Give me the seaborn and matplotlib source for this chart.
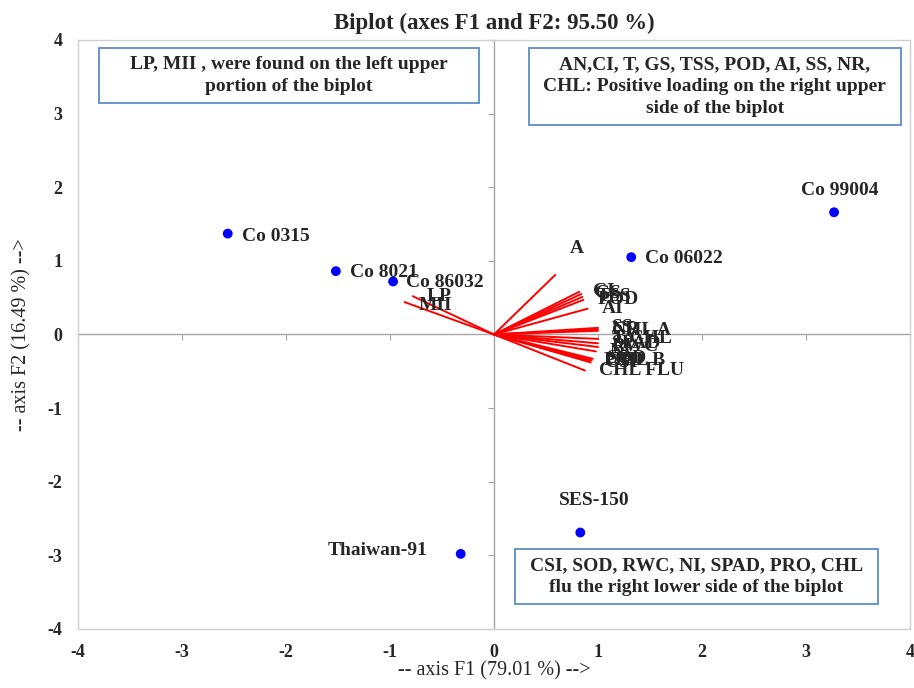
import numpy as np
import matplotlib.pyplot as plt
import seaborn as sns
import pandas as pd
from matplotlib.patches import Rectangle

# observations (factor scores on F1 / F2)
varieties = ["Co 0315", "Co 8021", "Co 86032", "Co 06022", "Co 99004", "SES-150", "Thaiwan-91"]
f1_scores = [-2.56, -1.52, -0.97, 1.32, 3.27, 0.83, -0.32]
f2_scores = [1.37, 0.86, 0.72, 1.05, 1.66, -2.69, -2.98]

# variables (loadings on F1 / F2)
variables = ["LP", "MII", "A", "CI", "GS", "TSS", "POD", "AI", "SS", "NR", "CHL A",
             "T CHL", "SPAD", "RWC", "NI", "SOD", "CSI", "PRO", "CHL B", "CHL FLU"]
f1_load = [-0.78, -0.86, 0.59, 0.82, 0.84, 0.85, 0.86, 0.90, 1.00, 1.00, 1.00,
           1.00, 1.00, 1.00, 0.98, 0.95, 0.93, 0.92, 0.94, 0.875]
f2_load = [0.52, 0.44, 0.81, 0.58, 0.55, 0.51, 0.47, 0.35, 0.09, 0.07, 0.05,
           -0.06, -0.12, -0.17, -0.23, -0.33, -0.38, -0.36, -0.35, -0.49]

box_texts = ["LP, MII , were found on the left upper\nportion of the biplot",
             "AN,CI, T, GS, TSS, POD, AI, SS, NR,\nCHL: Positive loading on the right upper\nside of the biplot",
             "CSI, SOD, RWC, NI, SPAD, PRO, CHL\nflu the right lower side of the biplot"]

sns.set_style("white")
plt.rcParams['font.family'] = ['Liberation Serif', 'DejaVu Serif']
plt.rcParams['axes.unicode_minus'] = False

df = pd.DataFrame({"F1": f1_scores, "F2": f2_scores, "name": varieties})

fig = plt.figure(figsize=(9.14, 6.88), dpi=100)
pos = [0.0853, 0.0858, 0.9103, 0.8561]

# background axes carrying the cross through the origin with its small ticks
ax0 = fig.add_axes(pos)
ax0.set_xlim(-4, 4)
ax0.set_ylim(-4, 4)
for s in ["top", "right"]:
    ax0.spines[s].set_visible(False)
ax0.spines["left"].set_position(("data", 0))
ax0.spines["bottom"].set_position(("data", 0))
for s in ["left", "bottom"]:
    ax0.spines[s].set_color("#a6a6a6")
    ax0.spines[s].set_linewidth(1.0)
ax0.set_xticks(range(-4, 5))
ax0.set_yticks(range(-4, 5))
ax0.tick_params(length=4, color="#a6a6a6", direction="out", labelleft=False, labelbottom=False,
                left=True, bottom=True)

ax = fig.add_axes(pos)
ax.patch.set_visible(False)
sns.scatterplot(data=df, x="F1", y="F2", ax=ax, color="#0000ff", s=50, edgecolor="none", zorder=4)

# loading lines
for x, y in zip(f1_load, f2_load):
    ax.plot([0, x], [0, y], color="red", lw=1.4, zorder=3)

lab_offsets = {"A": (14, 26), "LP": (14, 0), "MII": (14, -3)}
for name, x, y in zip(variables, f1_load, f2_load):
    dx, dy = lab_offsets.get(name, (14, 0))
    ax.annotate(name, (x, y), xytext=(dx, dy), textcoords="offset pixels",
                ha="left", va="center", fontsize=14, fontweight="bold", zorder=5)

# observation labels
obs_place = {"Co 0315": (14, -3, "left"), "Co 8021": (14, -1, "left"), "Co 86032": (13, -1, "left"),
             "Co 06022": (14, -1, "left"), "Co 99004": (6, 22, "center"),
             "SES-150": (14, 32, "center"), "Thaiwan-91": (-33, 3, "right")}
for name, x, y in zip(varieties, f1_scores, f2_scores):
    dx, dy, ha = obs_place[name]
    ax.annotate(name, (x, y), xytext=(dx, dy), textcoords="offset pixels",
                ha=ha, va="center", fontsize=14, fontweight="bold", zorder=5)

# text boxes
box_rects = [(-3.80, 3.14, 3.656, 0.75), (0.337, 2.84, 3.575, 1.05), (0.20, -3.655, 3.49, 0.745)]
for (bx, by, bw, bh), txt in zip(box_rects, box_texts):
    ax.add_patch(Rectangle((bx, by), bw, bh, facecolor="white", edgecolor="#5b8cc9",
                           lw=1.3, zorder=6))
    ax.text(bx + bw / 2, by + bh / 2, txt, ha="center", va="center", fontsize=14,
            fontweight="bold", linespacing=1.37, zorder=7)

ax.set_xlim(-4, 4)
ax.set_ylim(-4, 4)
ax.set_xticks(range(-4, 5))
ax.set_yticks(range(-4, 5))
for s in ax.spines.values():
    s.set_color("#d0d0d0")
    s.set_linewidth(1.0)
ax.tick_params(length=0, pad=11, labelsize=13)
for t in ax.get_xticklabels() + ax.get_yticklabels():
    t.set_fontweight("bold")
ax.set_xlabel("-- axis F1 (79.01 %) -->", fontsize=14.5)
ax.xaxis.set_label_coords(0.5, -0.0713)
ax.xaxis.label.set_va("center")
ax.set_ylabel("-- axis F2 (16.49 %) -->", fontsize=14.5)
ax.yaxis.set_label_coords(-0.067, 0.5)
ax.yaxis.label.set_va("center")
ax.set_title("Biplot (axes F1 and F2: 95.50 %)", fontsize=16.5, fontweight="bold", pad=8)

fig.savefig("out.png", dpi=100)
